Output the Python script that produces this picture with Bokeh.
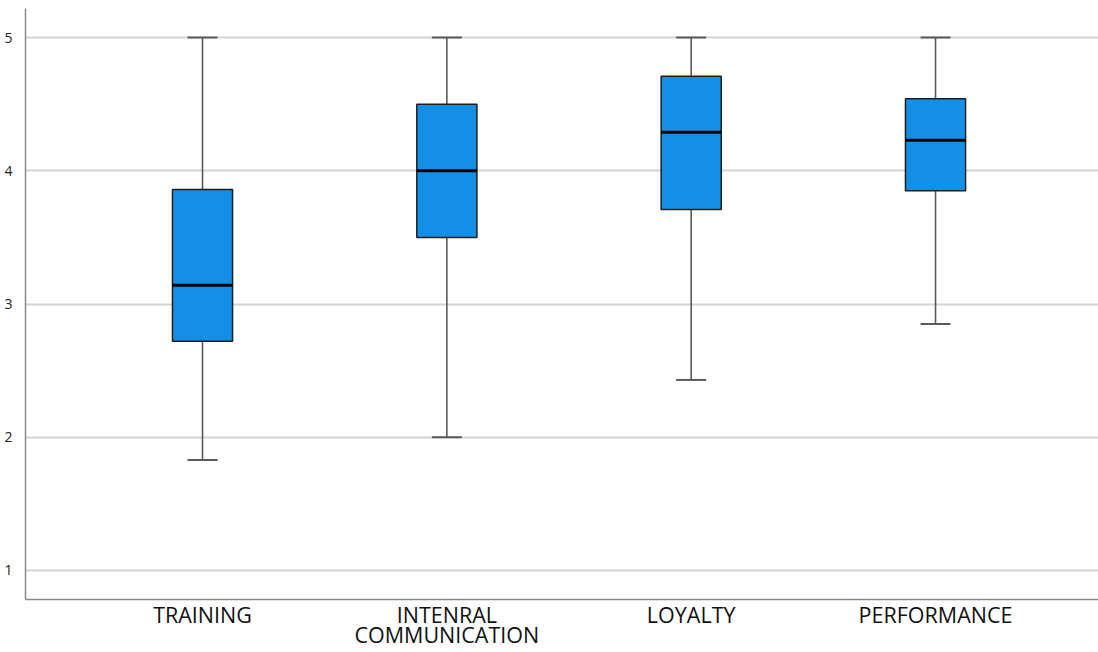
from bokeh.plotting import figure
from bokeh.models import ColumnDataSource, Whisker, TeeHead, FixedTicker, Range1d
from bokeh.transform import dodge
from bokeh.embed import file_html
from bokeh.resources import INLINE

categories = ["TRAINING", "INTENRAL\nCOMMUNICATION", "LOYALTY", "PERFORMANCE"]
positions = [1, 2, 3, 4]
lower_whisker = [1.83, 2.00, 2.43, 2.85]
q1 = [2.72, 3.50, 3.71, 3.85]
median = [3.14, 4.00, 4.29, 4.23]
q3 = [3.86, 4.50, 4.71, 4.54]
upper_whisker = [5.00, 5.00, 5.00, 5.00]
y_ticks = [1, 2, 3, 4, 5]

src = ColumnDataSource(dict(x=positions, lw=lower_whisker, q1=q1, med=median, q3=q3, uw=upper_whisker))

p = figure(width=1098, height=652, output_backend="svg", toolbar_location=None,
           x_range=Range1d(0.2755, 4.667), y_range=Range1d(0.782, 5.218),
           min_border_left=25, min_border_right=0, min_border_top=8, min_border_bottom=53)
p.outline_line_color = None
p.background_fill_color = "white"
p.border_fill_color = "white"

# whiskers
w = Whisker(source=src, base="x", upper="uw", lower="q3", dimension="height",
            line_color="#5a5a5a", line_width=1.6,
            upper_head=TeeHead(size=30, line_color="#5a5a5a", line_width=2), lower_head=None)
w2 = Whisker(source=src, base="x", upper="q1", lower="lw", dimension="height",
             line_color="#5a5a5a", line_width=1.6,
             lower_head=TeeHead(size=30, line_color="#5a5a5a", line_width=2), upper_head=None)
p.add_layout(w)
p.add_layout(w2)

p.vbar(x="x", width=0.246, bottom="q1", top="q3", source=src,
       fill_color="#138fe6", line_color="#1e1e1e", line_width=1.5)
p.segment(x0=dodge("x", -0.123), x1=dodge("x", 0.123), y0="med", y1="med", source=src,
          line_color="#000000", line_width=3)

p.xaxis.ticker = FixedTicker(ticks=positions)
p.xaxis.major_label_overrides = {pos: lab for pos, lab in zip(positions, categories)}
p.xaxis.major_label_text_font = "Open Sans"
p.xaxis.major_label_text_font_size = "21.5px"
p.xaxis.major_label_text_line_height = 0.72
p.xaxis.major_label_text_color = "#111111"
p.xaxis.major_label_standoff = 0
p.xaxis.major_tick_out = 0
p.xaxis.major_tick_in = 0
p.xaxis.major_tick_line_color = None
p.xaxis.minor_tick_line_color = None
p.xaxis.axis_line_color = "#8a8a8a"
p.xaxis.axis_line_width = 1.5

p.yaxis.ticker = FixedTicker(ticks=y_ticks)
p.yaxis.major_label_text_font = "Open Sans"
p.yaxis.major_label_text_font_size = "14px"
p.yaxis.major_label_text_color = "#222222"
p.yaxis.major_label_standoff = 7
p.yaxis.major_tick_line_color = None
p.yaxis.minor_tick_line_color = None
p.yaxis.axis_line_color = "#8a8a8a"
p.yaxis.axis_line_width = 1.5

p.xgrid.grid_line_color = None
p.ygrid.ticker = FixedTicker(ticks=y_ticks)
p.ygrid.grid_line_color = "#d4d4d4"
p.ygrid.grid_line_width = 2

open("out.html", "w").write(file_html(p, INLINE))
